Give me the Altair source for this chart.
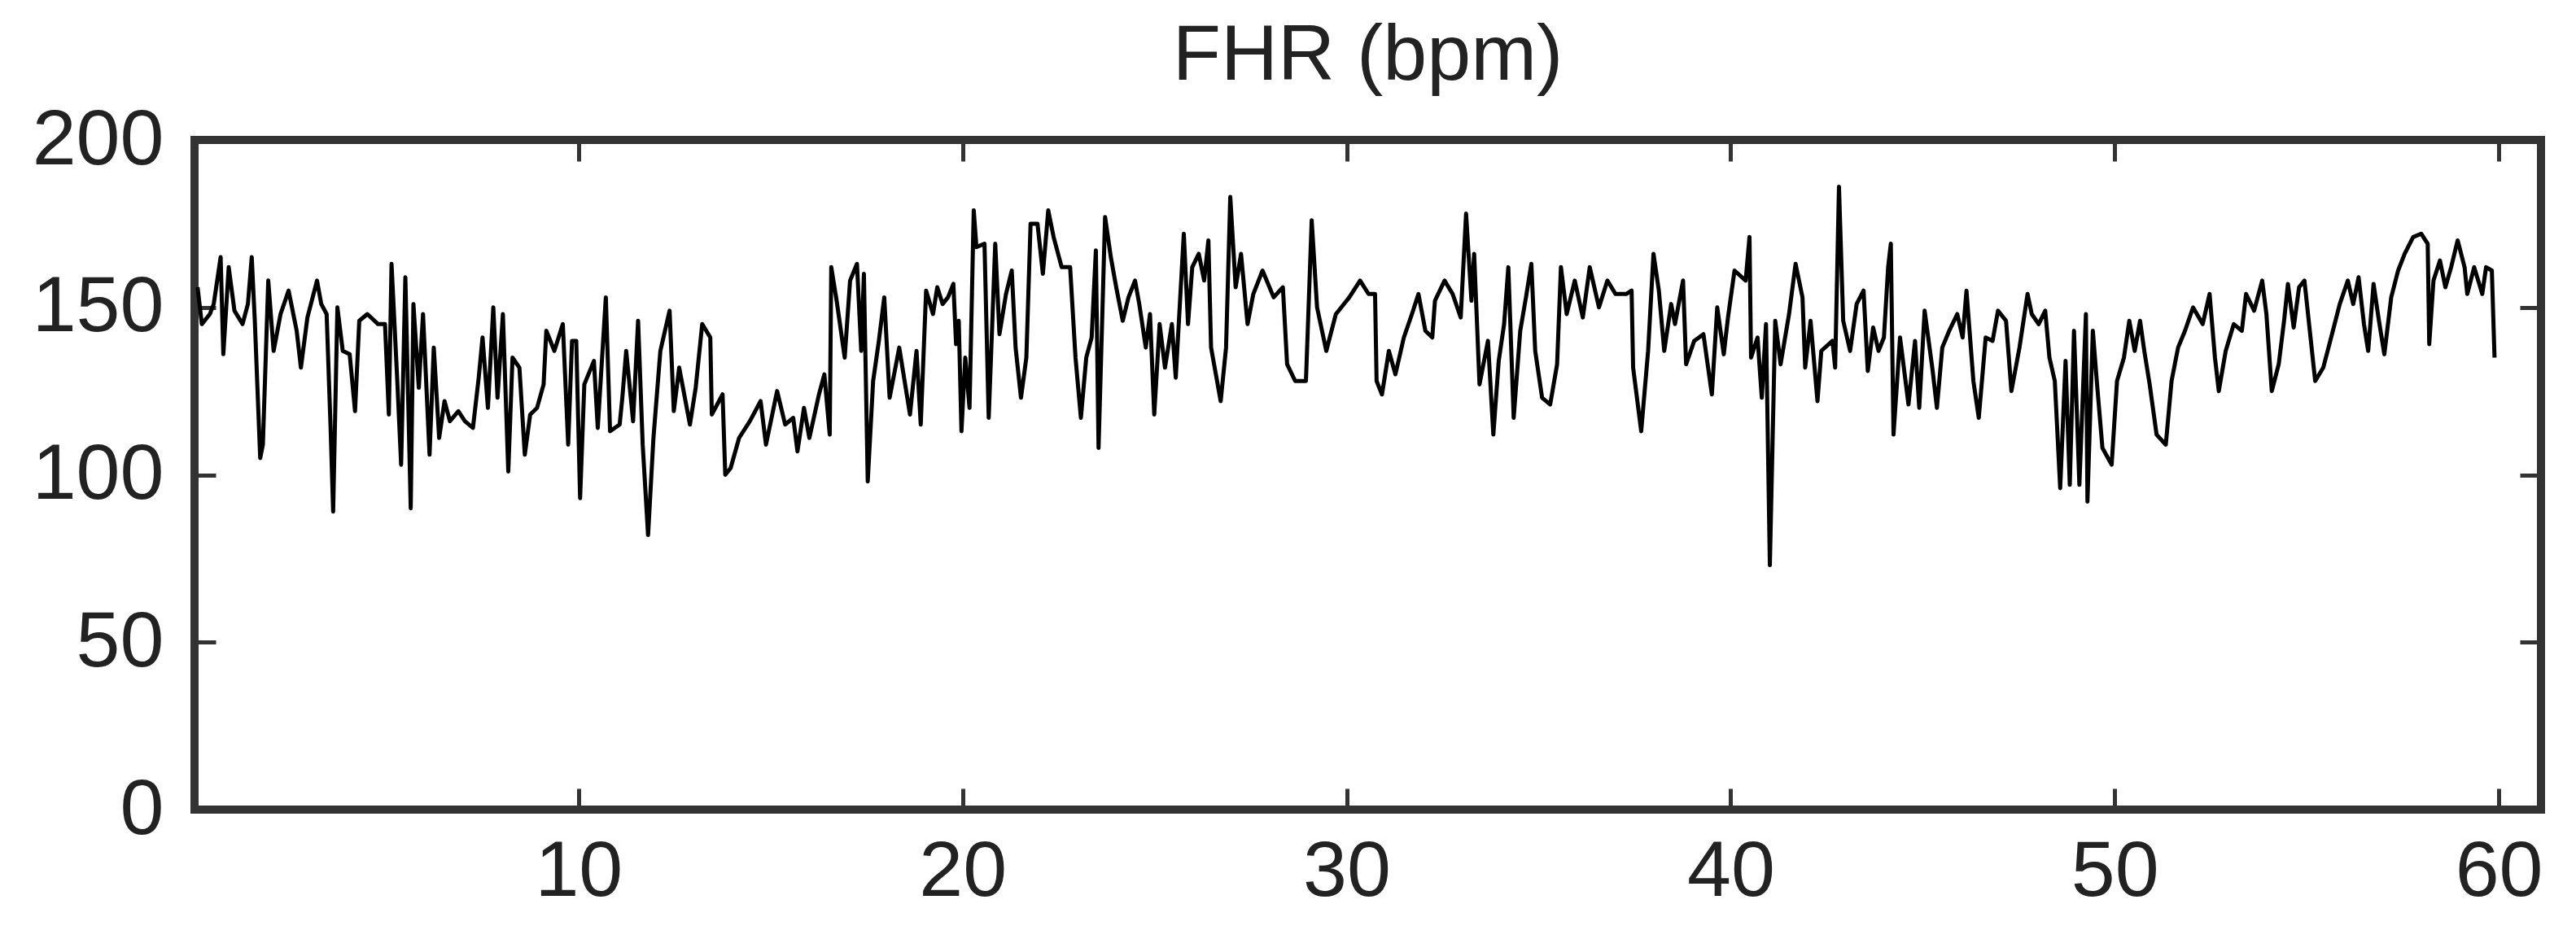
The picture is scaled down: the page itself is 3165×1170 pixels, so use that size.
import altair as alt
import pandas as pd

# Time (minutes) and fetal heart rate (bpm)
minutes = [
    0.08, 0.19, 0.40, 0.50, 0.68, 0.75, 0.89, 1.04, 1.25, 1.39, 1.49, 1.57, 1.71, 1.78, 1.92, 2.06,
    2.24, 2.45, 2.66, 2.77, 2.94, 3.19, 3.30, 3.44, 3.54, 3.61, 3.72, 3.86, 4.04, 4.18, 4.29, 4.50,
    4.78, 4.96, 5.06, 5.13, 5.28, 5.38, 5.49, 5.63, 5.70, 5.84, 5.95, 6.12, 6.23, 6.37, 6.51, 6.65,
    6.87, 7.04, 7.25, 7.40, 7.50, 7.64, 7.78, 7.89, 8.03, 8.17, 8.28, 8.46, 8.60, 8.74, 8.92, 9.09,
    9.16, 9.37, 9.59, 9.73, 9.83,
    9.94, 10.04, 10.15, 10.40, 10.50, 10.71, 10.82, 11.07, 11.14, 11.24, 11.42, 11.55, 11.67, 11.81,
    11.95, 12.13, 12.37, 12.48, 12.62, 12.90, 13.05, 13.22, 13.43, 13.47, 13.75, 13.82, 13.96, 14.18,
    14.46, 14.74, 14.88, 15.17, 15.38, 15.59, 15.70, 15.87, 16.01, 16.26, 16.40, 16.54, 16.58, 16.72,
    16.93, 17.07, 17.25, 17.36, 17.43, 17.53, 17.67, 17.82, 17.96, 18.10, 18.35, 18.49, 18.63, 18.80,
    18.91, 19.05, 19.23, 19.34, 19.48, 19.62, 19.76, 19.83,
    19.90, 19.97, 20.07, 20.18, 20.29, 20.36, 20.57, 20.68, 20.85, 20.96, 21.13, 21.28, 21.38, 21.52,
    21.66, 21.77, 21.95, 22.09, 22.23, 22.37, 22.58, 22.80, 22.94, 23.08, 23.22, 23.36, 23.47, 23.54,
    23.71, 23.86, 24.00, 24.17, 24.32, 24.49, 24.60, 24.77, 24.88, 24.99, 25.13, 25.27, 25.45, 25.55,
    25.76, 25.87, 25.98, 26.15, 26.29, 26.40, 26.47, 26.72, 26.86, 26.97, 27.11, 27.25, 27.42, 27.57,
    27.81, 28.10, 28.34, 28.45, 28.66, 28.94, 29.09, 29.23, 29.47, 29.72,
    29.86, 30.07, 30.35, 30.57, 30.74, 30.78, 30.92, 31.10, 31.27, 31.49, 31.70, 31.87, 32.05, 32.23,
    32.30, 32.55, 32.76, 32.97, 33.11, 33.25, 33.32, 33.46, 33.68, 33.82, 33.96, 34.10, 34.21, 34.35,
    34.52, 34.67, 34.81, 34.91, 35.09, 35.30, 35.48, 35.58, 35.73, 35.94, 36.15, 36.33, 36.57, 36.79,
    37.00, 37.28, 37.42, 37.46, 37.67, 37.85, 37.99, 38.13, 38.27, 38.45, 38.55, 38.76, 38.84, 39.05,
    39.29, 39.51, 39.65,
    39.82, 39.93, 40.10, 40.39, 40.49, 40.53, 40.70, 40.81, 40.92, 41.02, 41.16, 41.30, 41.52, 41.69,
    41.87, 41.94, 42.08, 42.26, 42.36, 42.65, 42.72, 42.82, 42.93, 43.11, 43.28, 43.46, 43.57, 43.71,
    43.85, 43.99, 44.10, 44.17, 44.24, 44.41, 44.63, 44.80, 44.91, 45.05, 45.26, 45.37, 45.51, 45.69,
    45.90, 46.04, 46.14, 46.32, 46.46, 46.64, 46.82, 46.96, 47.17, 47.31, 47.52, 47.73, 47.84, 48.02,
    48.19, 48.30, 48.44, 48.58, 48.72, 48.83, 48.94, 49.08, 49.25, 49.29, 49.43, 49.54, 49.68,
    49.92, 50.06, 50.24, 50.38, 50.52, 50.66, 50.77, 50.91, 51.09, 51.33, 51.48, 51.65, 51.83, 52.04,
    52.29, 52.47, 52.61, 52.71, 52.89, 53.10, 53.31, 53.42, 53.63, 53.84, 53.95, 54.09, 54.27, 54.41,
    54.51, 54.66, 54.80, 54.94, 55.08, 55.22, 55.43, 55.68, 55.86, 56.07, 56.21, 56.35, 56.49, 56.60,
    56.74, 56.88, 57.02, 57.20, 57.38, 57.55, 57.77, 57.98, 58.15, 58.19, 58.30, 58.47, 58.61, 58.76,
    58.93, 59.11, 59.18, 59.36, 59.57, 59.67, 59.82, 59.89,
]

fhr = [
    156, 145, 148, 151, 165, 136, 162, 149, 145, 151, 165, 146, 105, 109, 158, 137,
    148, 155, 143, 132, 147, 158, 151, 148, 115, 89, 150, 137, 136, 119, 146, 148,
    145, 145, 118, 163, 128, 103, 159, 90, 151, 126, 148, 106, 138, 111, 122, 116,
    119, 116, 114, 129, 141, 120, 150, 123, 148, 101, 135, 132, 106, 118, 120, 127,
    143, 137, 145, 109, 140,
    140, 93, 127, 134, 114, 153, 113, 115, 123, 137, 116, 146, 109, 82,
    111, 137, 149, 119, 132, 115, 126, 145, 141, 118, 124, 100, 102, 111,
    116, 122, 109, 125, 115, 117, 107, 120, 111, 124, 130, 112, 162, 152,
    135, 158, 163, 137, 160, 98, 128, 140, 153, 123, 138, 128, 118, 137,
    115, 155, 148, 156, 151, 153, 157, 139,
    146, 113, 135, 120, 179, 168, 169, 117, 169, 142, 154, 161, 138, 123,
    135, 175, 175, 160, 179, 171, 162, 162, 135, 117, 135, 141, 167, 108,
    177, 165, 156, 146, 153, 158, 151, 138, 148, 118, 145, 132, 145, 129,
    172, 145, 162, 166, 158, 170, 138, 122, 138, 183, 156, 166, 145, 154,
    161, 153, 156, 133, 128, 128, 176, 150, 137, 148,
    150, 153, 158, 154, 154, 128, 124, 137, 130, 141, 148, 154, 143, 141,
    152, 158, 154, 147, 178, 152, 166, 127, 140, 112, 134, 145, 162, 117,
    143, 153, 163, 137, 123, 121, 133, 162, 148, 158, 147, 162, 150, 158,
    154, 154, 155, 132, 113, 137, 166, 155, 137, 151, 145, 158, 133, 140,
    142, 124, 150,
    136, 147, 161, 158, 171, 135, 141, 123, 145, 73, 146, 133, 148, 163,
    153, 132, 146, 122, 137, 140, 132, 186, 146, 137, 151, 155, 131, 144,
    137, 141, 162, 169, 112, 141, 121, 140, 120, 149, 131, 120, 138, 143,
    148, 141, 155, 128, 117, 141, 140, 149, 146, 125, 138, 154, 148, 145,
    149, 135, 128, 96, 134, 97, 143, 97, 148, 92, 143, 127, 108,
    103, 128, 135, 146, 137, 146, 137, 127, 112, 109, 128, 138, 143, 150,
    145, 154, 135, 125, 137, 145, 143, 154, 149, 158, 148, 125, 133, 146,
    157, 144, 156, 158, 143, 128, 132, 143, 151, 158, 151, 159, 145, 137,
    157, 146, 136, 153, 161, 166, 171, 172, 169, 139, 158, 164, 156, 162,
    170, 162, 154, 162, 154, 162, 161, 135,
]

x_tick_values = [10, 20, 30, 40, 50, 60]
y_label_values = [0, 50, 100, 150, 200]
y_tick_values = [50, 100, 150]
title_text = "FHR (bpm)"

df = pd.DataFrame({"minute": minutes, "fhr": fhr})

W, H = 2883, 823
FONT = "Liberation Sans"
TXT = "#222222"
FRAME = "#333333"

xs = alt.Scale(domain=[0, 61.1], nice=False, zero=False)
ys = alt.Scale(domain=[0, 200], nice=False, zero=False)

label_axis = dict(labelFont=FONT, labelFontSize=97, labelColor=TXT, grid=False,
                  domain=False, ticks=False, title=None)
tick_axis = dict(labels=False, grid=False, domain=False, ticks=True, tickSize=26,
                 tickWidth=5, tickColor=FRAME, title=None)

base = alt.Chart(df)

trace = base.mark_line(color="black", strokeWidth=5, strokeJoin="round").encode(
    x=alt.X("minute:Q", scale=xs,
            axis=alt.Axis(values=x_tick_values, orient="bottom", labelPadding=28, **label_axis)),
    y=alt.Y("fhr:Q", scale=ys,
            axis=alt.Axis(values=y_label_values, orient="left", labelPadding=38, **label_axis)),
)

# inward ticks along the bottom and left edges
ticks_a = base.mark_line(strokeOpacity=0).encode(
    x=alt.X("minute:Q", scale=xs,
            axis=alt.Axis(values=x_tick_values, orient="top", offset=-H, **tick_axis)),
    y=alt.Y("fhr:Q", scale=ys,
            axis=alt.Axis(values=y_tick_values, orient="right", offset=-W, **tick_axis)),
)

# inward ticks along the top and right edges
ticks_b = base.mark_line(strokeOpacity=0).encode(
    x=alt.X("minute:Q", scale=xs,
            axis=alt.Axis(values=x_tick_values, orient="bottom", offset=-H, **tick_axis)),
    y=alt.Y("fhr:Q", scale=ys,
            axis=alt.Axis(values=y_tick_values, orient="left", offset=-W, **tick_axis)),
)

chart = (
    alt.layer(trace, ticks_a, ticks_b)
    .resolve_axis(x="independent", y="independent")
    .properties(
        width=W,
        height=H,
        title=alt.TitleParams(title_text, font=FONT, fontSize=97, fontWeight="normal",
                              color=TXT, anchor="middle", baseline="alphabetic",
                              offset=68, dy=140),
        autosize=alt.AutoSizeParams(type="none"),
        padding={"left": 231, "top": 164, "right": 30, "bottom": 160},
    )
    .configure_view(stroke=FRAME, strokeWidth=10)
)

chart.save("out.html", embed_options={"renderer": "svg", "actions": False})
